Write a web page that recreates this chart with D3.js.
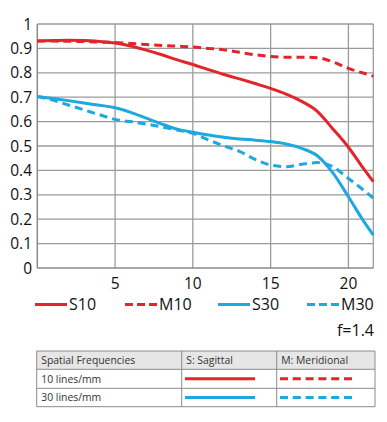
<!DOCTYPE html>
<html><head><meta charset="utf-8">
<script src="https://cdn.jsdelivr.net/npm/d3@7"></script>
<style>body{margin:0;background:#fff}svg{display:block}</style>
</head><body>
<svg id="c" width="387" height="422"></svg>
<script>
const fields = [0,1,2,3,4,5,6,7,8,9,10,11,12,13,14,15,16,17,18,19,20,21,21.6];
const S10 = [0.930,0.932,0.933,0.932,0.928,0.922,0.910,0.893,0.874,0.853,0.834,0.813,0.793,0.775,0.756,0.736,0.713,0.683,0.642,0.570,0.495,0.405,0.354];
const M10 = [0.930,0.930,0.929,0.928,0.926,0.924,0.920,0.916,0.912,0.909,0.906,0.900,0.894,0.884,0.874,0.867,0.864,0.864,0.862,0.845,0.818,0.798,0.786];
const S30 = [0.703,0.695,0.686,0.676,0.667,0.657,0.638,0.614,0.590,0.569,0.556,0.545,0.536,0.529,0.524,0.518,0.508,0.490,0.460,0.390,0.292,0.190,0.135];
const M30 = [0.703,0.688,0.668,0.648,0.628,0.609,0.600,0.590,0.578,0.565,0.552,0.525,0.500,0.478,0.445,0.422,0.415,0.425,0.432,0.415,0.367,0.318,0.286];
const xTicks = [5,10,15,20];
const yTicks = [0,0.1,0.2,0.3,0.4,0.5,0.6,0.7,0.8,0.9,1];
const seriesNames = ["S10","M10","S30","M30"];
const seriesData = [S10,M10,S30,M30];
const tableHeader = ["Spatial Frequencies","S: Sagittal","M: Meridional"];
const tableRows = ["10 lines/mm","30 lines/mm"];
const fNumber = "f=1.4";

const RED = "#e3242b", BLUE = "#1ea8e0";
const colors = {S10:RED,M10:RED,S30:BLUE,M30:BLUE};
const dashed = {S10:false,M10:true,S30:false,M30:true};
const FONT = "'Open Sans', sans-serif";

const svg = d3.select("#c");
const L=37.3, R=373.3, T=24, B=268;
const x = d3.scaleLinear().domain([0,21.6]).range([L,R]);
const y = d3.scaleLinear().domain([0,1]).range([B,T]);
const g = svg.append("g");
const grid = "#9b9b9b";

g.selectAll(".hg").data(yTicks.filter(d=>d>0)).enter().append("line")
  .attr("x1",L).attr("x2",R).attr("y1",d=>y(d)).attr("y2",d=>y(d))
  .attr("stroke",grid).attr("stroke-width",1.3);
g.selectAll(".vg").data(xTicks.concat([21.6])).enter().append("line")
  .attr("x1",d=>x(d)).attr("x2",d=>x(d)).attr("y1",T).attr("y2",B)
  .attr("stroke",grid).attr("stroke-width",1.3);
g.append("line").attr("x1",L).attr("x2",L).attr("y1",T).attr("y2",B).attr("stroke","#8a8a8a").attr("stroke-width",1.5);
g.append("line").attr("x1",L).attr("x2",R).attr("y1",B).attr("y2",B).attr("stroke","#8a8a8a").attr("stroke-width",1.5);

g.selectAll(".yl").data(yTicks).enter().append("text")
  .attr("x",32).attr("y",d=>y(d)+5.5).attr("text-anchor","end")
  .attr("font-family",FONT).attr("font-size",15.5).attr("fill","#111")
  .text(d=>d===0?"0":d===1?"1":d3.format(".1f")(d));
g.selectAll(".xl").data(xTicks).enter().append("text")
  .attr("x",d=>x(d)).attr("y",289).attr("text-anchor","middle")
  .attr("font-family",FONT).attr("font-size",15.5).attr("fill","#111")
  .text(d=>d);

const line = d3.line().x((d,i)=>x(fields[i])).y(d=>y(d)).curve(d3.curveMonotoneX);
seriesNames.forEach((n,k)=>{
  g.append("path").attr("d",line(seriesData[k])).attr("fill","none")
   .attr("stroke",colors[n]).attr("stroke-width",3)
   .attr("stroke-dasharray",dashed[n]?"8,5":null);
});

const legX = [35,125,218,307];
seriesNames.forEach((n,k)=>{
  svg.append("line").attr("x1",legX[k]).attr("x2",legX[k]+32).attr("y1",304.5).attr("y2",304.5)
    .attr("stroke",colors[n]).attr("stroke-width",3).attr("stroke-dasharray",dashed[n]?"8,4":null);
  svg.append("text").attr("x",legX[k]+34).attr("y",310).attr("font-family",FONT)
    .attr("font-size",16).attr("fill","#111").text(n);
});
svg.append("text").attr("x",374).attr("y",336).attr("text-anchor","end")
  .attr("font-family",FONT).attr("font-size",16).attr("fill","#111").text(fNumber);

const tx=[36.7,181.7,276.7,375], ty=[351,369.3,388.3,406.7];
svg.append("rect").attr("x",tx[0]).attr("y",ty[0]).attr("width",tx[3]-tx[0]).attr("height",ty[1]-ty[0]).attr("fill","#e6e6e6");
const tg="#8c8c8c";
ty.forEach(v=>svg.append("line").attr("x1",tx[0]).attr("x2",tx[3]).attr("y1",v).attr("y2",v).attr("stroke",tg).attr("stroke-width",1));
tx.forEach(v=>svg.append("line").attr("x1",v).attr("x2",v).attr("y1",ty[0]).attr("y2",ty[3]).attr("stroke",tg).attr("stroke-width",1));
tableHeader.forEach((h,i)=>svg.append("text").attr("x",tx[i]+4.5).attr("y",ty[0]+13).attr("font-family",FONT)
  .attr("font-size",10.4).attr("fill","#333").text(h));
tableRows.forEach((r,i)=>{
  const cy=(ty[i+1]+ty[i+2])/2;
  svg.append("text").attr("x",tx[0]+4.5).attr("y",cy+3.7).attr("font-family",FONT).attr("font-size",10.4).attr("fill","#333").text(r);
  const c = i===0?RED:BLUE;
  svg.append("line").attr("x1",185).attr("x2",255).attr("y1",cy).attr("y2",cy).attr("stroke",c).attr("stroke-width",3);
  svg.append("line").attr("x1",280).attr("x2",352).attr("y1",cy).attr("y2",cy).attr("stroke",c).attr("stroke-width",3).attr("stroke-dasharray","8,4.8");
});
</script>
</body></html>
